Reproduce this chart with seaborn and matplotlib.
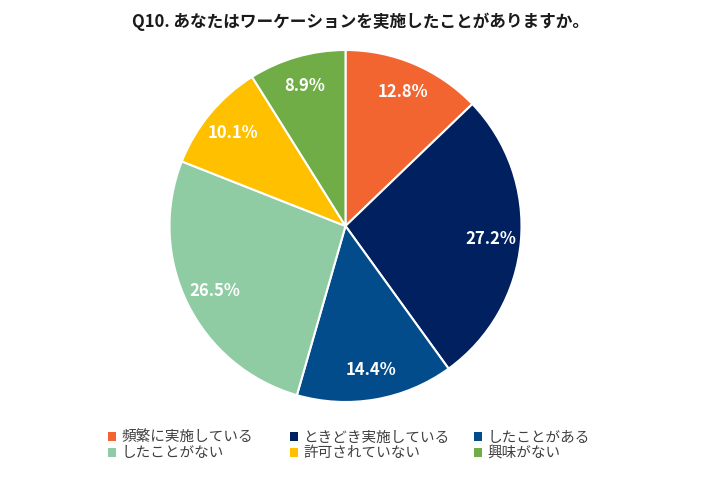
import matplotlib
matplotlib.use("Agg")
import matplotlib.pyplot as plt
import seaborn as sns
from matplotlib.patches import Patch

# data
labels = ['頻繁に実施している', 'ときどき実施している', 'したことがある',
          'したことがない', '許可されていない', '興味がない']
values = [12.8, 27.2, 14.4, 26.5, 10.1, 8.9]
colors = ['#F26531', '#002060', '#034C8C', '#90CCA3', '#FFC000', '#70AD47']
title = 'Q10. あなたはワーケーションを実施したことがありますか。'

sns.set_theme(style="white")
plt.rcParams['font.family'] = ['Noto Sans CJK JP', 'DejaVu Sans']

palette = sns.color_palette(colors)

fig = plt.figure(figsize=(7.2, 4.8), dpi=100)
fig.patch.set_facecolor('white')

# pie centred at (345, 226) px, radius ~176 px
cx, cy, r = 345.5, 226, 176
ax = fig.add_axes([(cx - r) / 720, 1 - (cy + r) / 480, 2 * r / 720, 2 * r / 480])
wedges, texts, autotexts = ax.pie(
    values,
    colors=palette,
    startangle=90,
    counterclock=False,
    autopct='%.1f%%',
    pctdistance=0.83,
    wedgeprops=dict(edgecolor='white', linewidth=1.5),
    textprops=dict(color='white', fontsize=12, fontweight='bold'),
)
ax.set_xlim(-1, 1)
ax.set_ylim(-1, 1)
ax.set_aspect('equal')

fig.text(360 / 720, 1 - 22 / 480, title, ha='center', va='center',
         fontsize=12, fontweight='bold', color='#1a1a1a')

# legend: three columns, two rows (row-major order)
col_x = [108, 290, 474]
for c in range(3):
    idx = [c, c + 3]
    handles = [Patch(facecolor=palette[i], edgecolor='none') for i in idx]
    leg = fig.legend(handles, [labels[i] for i in idx],
                     loc='upper left',
                     bbox_to_anchor=(col_x[c] / 720, 1 - 431 / 480),
                     frameon=False, fontsize=10.5,
                     handlelength=0.55, handleheight=0.55,
                     handletextpad=0.35, labelspacing=0.1,
                     borderpad=0, borderaxespad=0)
    for t in leg.get_texts():
        t.set_color('#404040')

plt.savefig('out.png', dpi=100)
